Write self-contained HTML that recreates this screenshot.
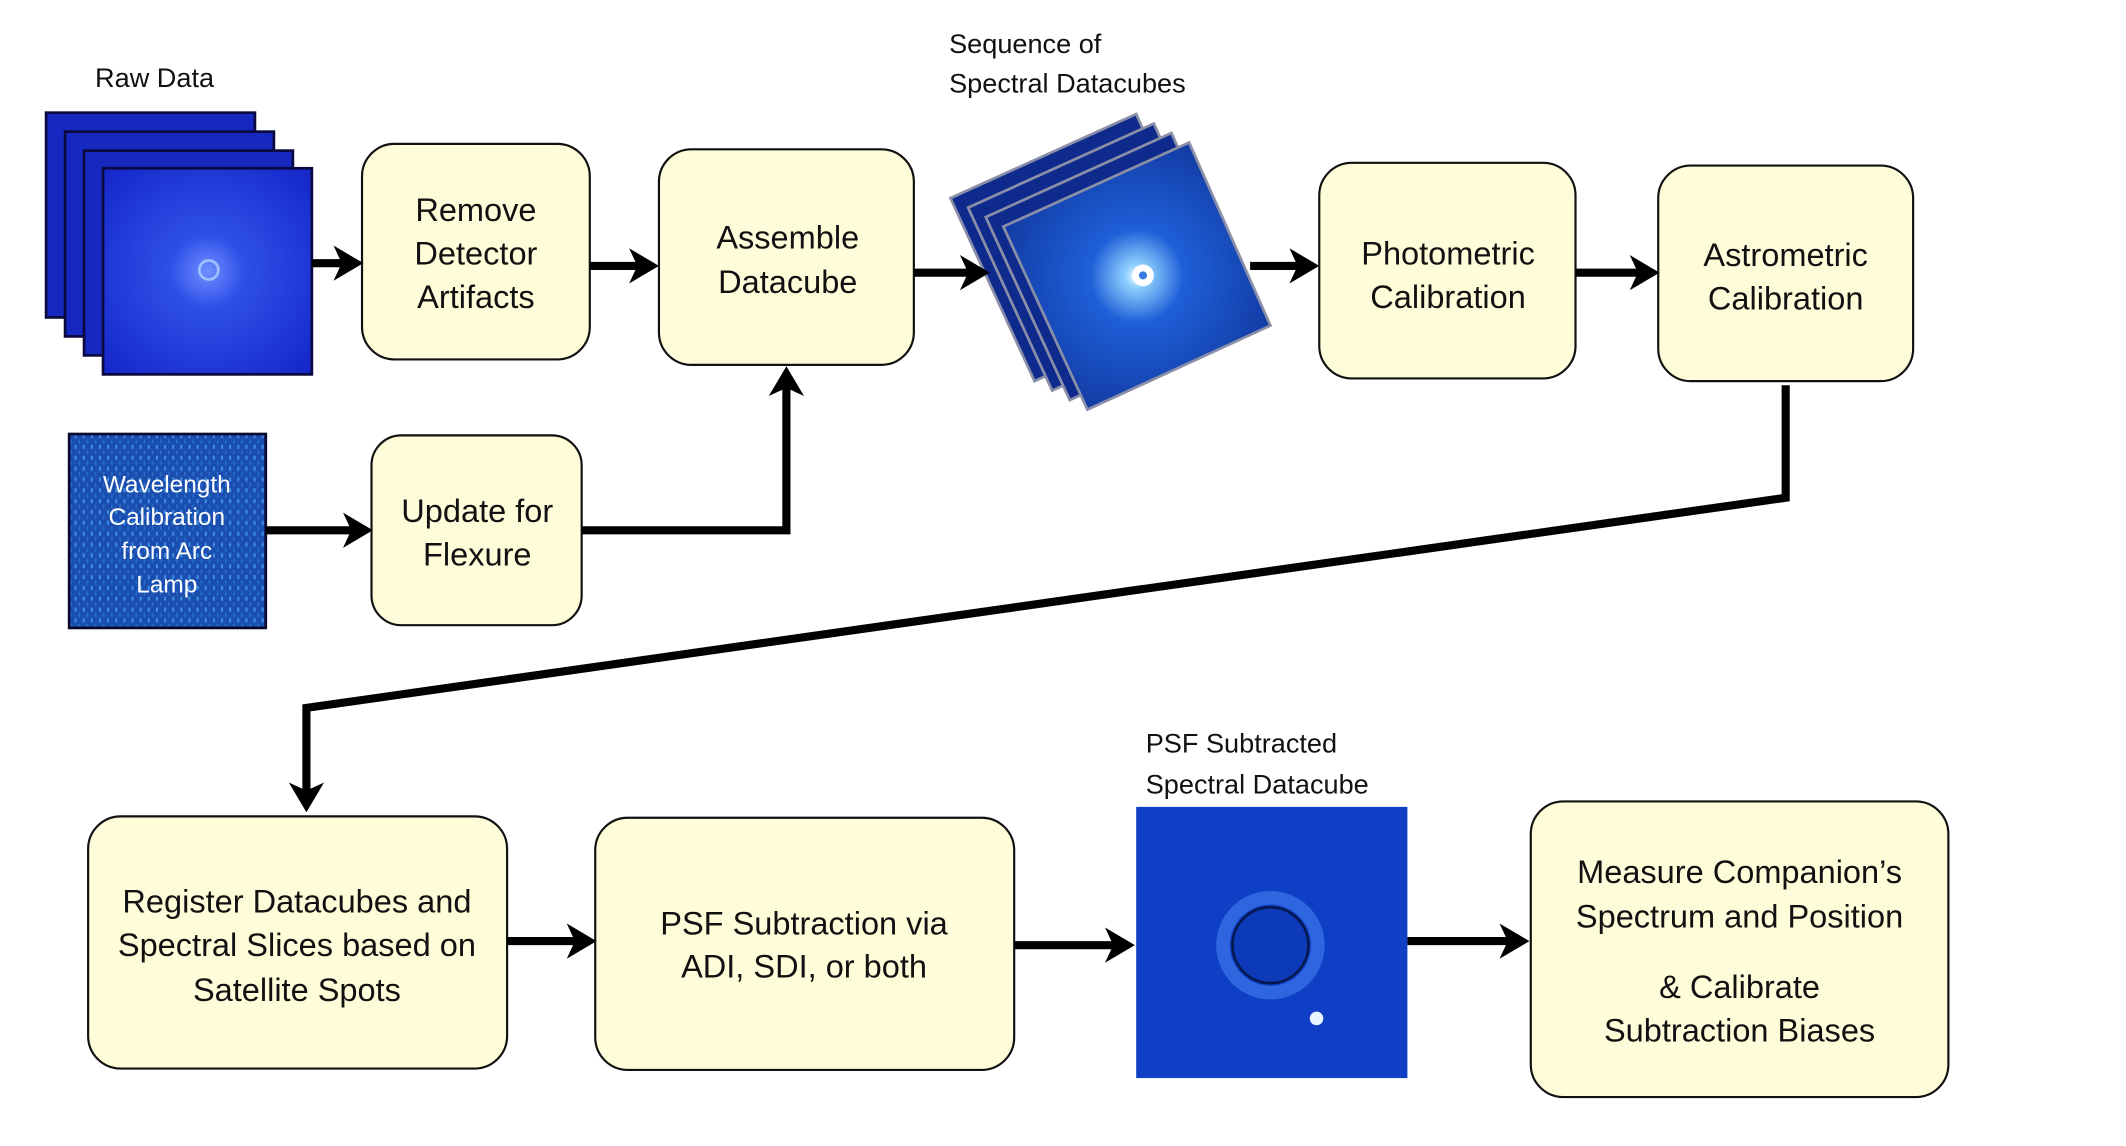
<!DOCTYPE html>
<html><head><meta charset="utf-8"><style>
html,body{margin:0;padding:0;background:#fff;}
svg{display:block;}
text{font-family:"Liberation Sans",sans-serif;fill:#111;}
</style></head><body>
<svg width="2126" height="1146" viewBox="0 0 1568 845" xmlns="http://www.w3.org/2000/svg">
<defs>
<radialGradient id="raw" cx="0.5" cy="0.5" r="0.7">
<stop offset="0" stop-color="#6f8fff"/><stop offset="0.25" stop-color="#2f4fe8"/><stop offset="1" stop-color="#1426c8"/></radialGradient>
<radialGradient id="cube" cx="0.5" cy="0.5" r="0.7">
<stop offset="0" stop-color="#ffffff"/><stop offset="0.06" stop-color="#8fd0ff"/><stop offset="0.25" stop-color="#1f5fd8"/><stop offset="1" stop-color="#0b2a8a"/></radialGradient>
<pattern id="arc" width="6" height="8" patternUnits="userSpaceOnUse">
<rect width="6" height="8" fill="#1a4fb0"/><rect x="1" y="0" width="1.5" height="3" fill="#3f8fe0"/><rect x="4" y="4" width="1" height="3" fill="#2f70d0"/></pattern>
</defs>

<text x="114" y="64" font-size="20" text-anchor="middle">Raw Data</text>
<rect x="34" y="83" width="154" height="151" fill="#1628c0" stroke="#0a0a40" stroke-width="2"/>
<rect x="48" y="97" width="154" height="151" fill="#1628c0" stroke="#0a0a40" stroke-width="2"/>
<rect x="62" y="111" width="154" height="151" fill="#1628c0" stroke="#0a0a40" stroke-width="2"/>
<rect x="76" y="124" width="154" height="152" fill="url(#raw)" stroke="#0a0a40" stroke-width="2"/>
<circle cx="154" cy="199" r="7" fill="none" stroke="#9fc0ff" stroke-width="2"/>

<rect x="51" y="320" width="145" height="143" fill="url(#arc)" stroke="#0a0a30" stroke-width="2"/>
<g font-size="18" text-anchor="middle">
<text x="123" y="363" style="fill:#fff">Wavelength</text>
<text x="123" y="387" style="fill:#fff">Calibration</text>
<text x="123" y="412" style="fill:#fff">from Arc</text>
<text x="123" y="437" style="fill:#fff">Lamp</text>
</g>

<g fill="#fefcd9" stroke="#111" stroke-width="1.6">
<rect x="267" y="106" width="168" height="159" rx="24"/>
<rect x="486" y="110" width="188" height="159" rx="24"/>
<rect x="274" y="321" width="155" height="140" rx="22"/>
<rect x="973" y="120" width="189" height="159" rx="24"/>
<rect x="1223" y="122" width="188" height="159" rx="24"/>
<rect x="65" y="602" width="309" height="186" rx="24"/>
<rect x="439" y="603" width="309" height="186" rx="24"/>
<rect x="1129" y="591" width="308" height="218" rx="24"/>
</g>
<g font-size="24" text-anchor="middle">
<text x="351" y="163">Remove</text><text x="351" y="195">Detector</text><text x="351" y="227">Artifacts</text>
<text x="581" y="183">Assemble</text><text x="581" y="216">Datacube</text>
<text x="352" y="385">Update for</text><text x="352" y="417">Flexure</text>
<text x="1068" y="195">Photometric</text><text x="1068" y="227">Calibration</text>
<text x="1317" y="196">Astrometric</text><text x="1317" y="228">Calibration</text>
<text x="219" y="673">Register Datacubes and</text><text x="219" y="705">Spectral Slices based on</text><text x="219" y="738">Satellite Spots</text>
<text x="593" y="689">PSF Subtraction via</text><text x="593" y="721">ADI, SDI, or both</text>
<text x="1283" y="651">Measure Companion’s</text><text x="1283" y="684">Spectrum and Position</text>
<text x="1283" y="736">&amp; Calibrate</text><text x="1283" y="768">Subtraction Biases</text>
</g>

<text x="700" y="39" font-size="20">Sequence of</text>
<text x="700" y="68" font-size="20">Spectral Datacubes</text>
<g stroke="#8a8fa8" stroke-width="2">
<polygon points="701,146 838,84 898,219 763,281" fill="#0e2a8c"/>
<polygon points="714,153 851,91 911,226 776,288" fill="#0e2a8c"/>
<polygon points="727,160 864,98 924,233 789,295" fill="#0e2a8c"/>
<polygon points="740,167 877,105 937,240 802,302" fill="url(#cube)"/>
</g>
<circle cx="843" cy="203" r="8" fill="#fff"/><circle cx="843" cy="203" r="3" fill="#3a7ae0"/>

<text x="845" y="555" font-size="20">PSF Subtracted</text>
<text x="845" y="585" font-size="20">Spectral Datacube</text>
<rect x="838" y="595" width="200" height="200" fill="#0f3fc4"/>
<circle cx="937" cy="697" r="35" fill="none" stroke="#2f66e0" stroke-width="10"/>
<circle cx="937" cy="697" r="28" fill="#0d3ab8" stroke="#06194f" stroke-width="2"/>
<circle cx="971" cy="751" r="5" fill="#e8f4ff"/>

<g stroke="#000" stroke-width="6" fill="none">
<line x1="230" y1="194" x2="255" y2="194"/>
<line x1="435" y1="196" x2="473" y2="196"/>
<line x1="674" y1="201" x2="717" y2="201"/>
<line x1="922" y1="196" x2="960" y2="196"/>
<line x1="1162" y1="201" x2="1211" y2="201"/>
<line x1="196" y1="391" x2="262" y2="391"/>
<polyline points="429,391 580,391 580,284"/>
<polyline points="1317,284 1317,367 226,522 226,585"/>
<line x1="374" y1="694" x2="427" y2="694"/>
<line x1="748" y1="697" x2="824" y2="697"/>
<line x1="1038" y1="694" x2="1115" y2="694"/>
</g>
<g fill="#000">
<polygon points="268,194 246,181 252,194 246,207"/>
<polygon points="486,196 464,183 470,196 464,209"/>
<polygon points="730,201 708,188 714,201 708,214"/>
<polygon points="973,196 951,183 957,196 951,209"/>
<polygon points="1224,201 1202,188 1208,201 1202,214"/>
<polygon points="275,391 253,378 259,391 253,404"/>
<polygon points="580,270 567,292 580,286 593,292"/>
<polygon points="226,599 213,577 226,583 239,577"/>
<polygon points="440,694 418,681 424,694 418,707"/>
<polygon points="837,697 815,684 821,697 815,710"/>
<polygon points="1128,694 1106,681 1112,694 1106,707"/>
</g>
</svg>
</body></html>
